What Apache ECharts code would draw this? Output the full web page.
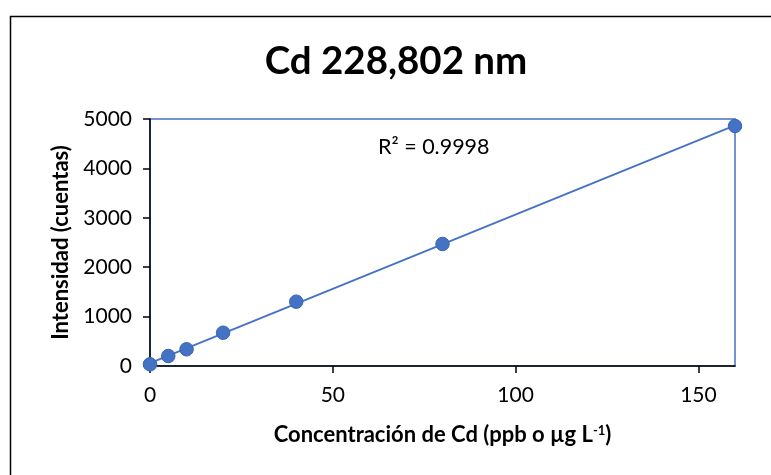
<!DOCTYPE html>
<html>
<head>
<meta charset="utf-8">
<script src="https://cdn.jsdelivr.net/npm/echarts@6/dist/echarts.min.js"></script>
<style>html,body{margin:0;padding:0;background:#fff}#c{width:771px;height:475px}</style>
</head>
<body>
<div id="c"></div>
<script>
const concentrations = [0, 5, 10, 20, 40, 80, 160];
const intensities = [34, 202, 338, 674, 1302, 2470, 4858];
const xTicks = [0, 50, 100, 150];
const yTicks = [0, 1000, 2000, 3000, 4000, 5000];
const titleText = 'Cd 228,802 nm';
const r2Text = 'R² = 0.9998';

// least-squares trendline from the data
const n = concentrations.length;
const mx = concentrations.reduce((a, b) => a + b, 0) / n;
const my = intensities.reduce((a, b) => a + b, 0) / n;
let sxy = 0, sxx = 0;
for (let i = 0; i < n; i++) { sxy += (concentrations[i] - mx) * (intensities[i] - my); sxx += (concentrations[i] - mx) ** 2; }
const slope = sxy / sxx, intercept = my - slope * mx;
const xMin = Math.min(...concentrations), xMax = Math.max(...concentrations);
const trend = [[xMin, intercept + slope * xMin], [xMax, intercept + slope * xMax]];

const FONT = 'Lato';
const chart = echarts.init(document.getElementById('c'), null, {renderer: 'canvas'});
chart.setOption({
  animation: false,
  backgroundColor: '#fff',
  title: {
    text: titleText, left: 391, top: 37, textAlign: 'center',
    textStyle: {fontFamily: FONT, fontWeight: 'bold', fontSize: 38.5, color: '#000'}
  },
  grid: {left: 150, right: 36, top: 119, bottom: 109, show: true, borderColor: '#4472C4', borderWidth: 1.5, backgroundColor: 'transparent'},
  xAxis: {
    type: 'value', min: 0, max: 160,
    name: '{b|Concentración de Cd (ppb o µg L}{s|-1}{b|)}',
    nameLocation: 'middle', nameGap: 58,
    nameTextStyle: {rich: {b: {fontFamily: FONT, fontWeight: 'bold', fontSize: 22, color: '#000', verticalAlign: 'bottom'}, s: {fontFamily: FONT, fontWeight: 'bold', fontSize: 13, color: '#000', verticalAlign: 'top', padding: [0, 0, 9, 0]}}},
    axisLine: {show: true, onZero: false, lineStyle: {color: '#000', width: 1.5}},
    axisTick: {show: true, length: 7, customValues: xTicks, lineStyle: {color: '#000', width: 1.5}},
    axisLabel: {fontFamily: FONT, fontSize: 21, color: '#000', margin: 19, customValues: xTicks},
    splitLine: {show: false}
  },
  yAxis: {
    type: 'value', min: 0, max: 5000, interval: 1000,
    name: 'Intensidad (cuentas)', nameLocation: 'middle', nameGap: 77,
    nameTextStyle: {fontFamily: FONT, fontWeight: 'bold', fontSize: 22, color: '#000'},
    axisLine: {show: true, lineStyle: {color: '#000', width: 1.5}},
    axisTick: {show: true, length: 7, customValues: yTicks, lineStyle: {color: '#000', width: 1.5}},
    axisLabel: {fontFamily: FONT, fontSize: 21, color: '#000', margin: 18, customValues: yTicks, formatter: v => String(v)},
    splitLine: {show: false}
  },
  graphic: [
    {type: 'rect', left: 8, top: 14, shape: {width: 800, height: 520}, style: {fill: 'none', stroke: '#000', lineWidth: 1.5}, z: -1},
    {type: 'text', left: 378, top: 136, style: {text: r2Text, fontFamily: FONT, fontSize: 21.5, fill: '#000'}}
  ],
  series: [
    {type: 'line', data: trend, symbol: 'none', lineStyle: {color: '#4472C4', width: 1.75}, z: 2, silent: true},
    {type: 'scatter', data: concentrations.map((x, i) => [x, intensities[i]]), symbol: 'circle', symbolSize: 13.5,
     itemStyle: {color: '#4472C4', opacity: 1, borderColor: '#3a64b0', borderWidth: 1}, z: 3, clip: false}
  ]
});
</script>
</body>
</html>
